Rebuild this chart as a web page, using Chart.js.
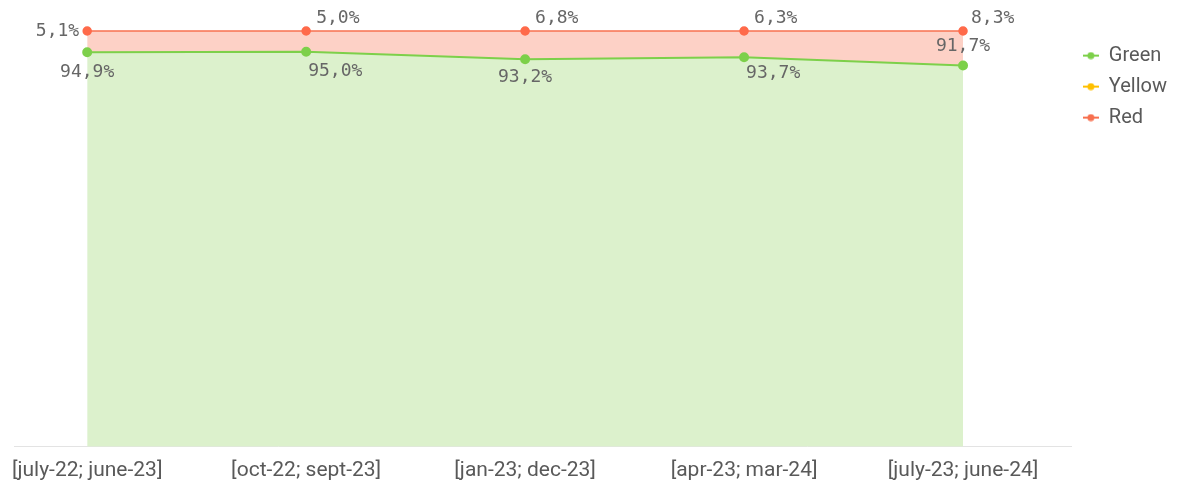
<!DOCTYPE html>
<html>
<head>
<meta charset="utf-8">
<script src="https://cdn.jsdelivr.net/npm/chart.js@4/dist/chart.umd.min.js"></script>
<style>
  html, body { margin: 0; padding: 0; background: #fff; }
  #wrap { width: 1196px; height: 490px; }
</style>
</head>
<body>
<div id="wrap"><canvas id="riskChart"></canvas></div>
<script>
// Data: share of green / yellow / red per rolling 12-month period
const periods = ['[july-22; june-23]', '[oct-22; sept-23]', '[jan-23; dec-23]', '[apr-23; mar-24]', '[july-23; june-24]'];
const green = [94.9, 95.0, 93.2, 93.7, 91.7];
const yellow = [0, 0, 0, 0, 0];
const red = [5.1, 5.0, 6.8, 6.3, 8.3];

const toPoints = arr => arr.map((v, i) => ({ x: i, y: v }));

// little "line with dot" markers for the legend
function legendIcon(color) {
    const c = document.createElement('canvas');
    c.width = 16; c.height = 8;
    const g = c.getContext('2d');
    g.strokeStyle = color; g.lineWidth = 2;
    g.beginPath(); g.moveTo(0, 4); g.lineTo(16, 4); g.stroke();
    g.fillStyle = color;
    g.beginPath(); g.arc(8, 4, 3.5, 0, Math.PI * 2); g.fill();
    return c;
}

// where each value label sits relative to its point: [dx, dy, align]
const labelSpots = {
    0: [[0, 20, 'center'], [2, 20, 'left'], [0, 18, 'center'], [2, 16, 'left'], [0, -19, 'center']],
    2: [[-8, 0, 'right'], [10, -13, 'left'], [10, -13, 'left'], [10, -13, 'left'], [8, -13, 'left']]
};

const valueLabels = {
    id: 'valueLabels',
    afterDatasetsDraw(chart) {
        const ctx = chart.ctx;
        ctx.save();
        ctx.font = '18px "DejaVu Sans Mono"';
        ctx.fillStyle = '#666666';
        ctx.textBaseline = 'middle';
        Object.keys(labelSpots).forEach(di => {
            const meta = chart.getDatasetMeta(+di);
            const vals = chart.data.datasets[di].data;
            meta.data.forEach((pt, i) => {
                const [dx, dy, align] = labelSpots[di][i];
                ctx.textAlign = align;
                ctx.fillText(vals[i].y.toFixed(1).replace('.', ',') + '%', pt.x + dx, pt.y + dy);
            });
        });
        ctx.restore();
    }
};

const ctx = document.getElementById('riskChart').getContext('2d');
new Chart(ctx, {
    type: 'line',
    data: {
        datasets: [
            {
                label: 'Green',
                data: toPoints(green),
                borderColor: '#7dd04a',
                backgroundColor: '#dcf1cc',
                pointBackgroundColor: '#7dd04a',
                pointBorderColor: '#7dd04a',
                borderWidth: 2,
                pointRadius: 4,
                fill: 'origin',
                tension: 0,
                clip: false
            },
            {
                label: 'Yellow',
                data: toPoints(yellow),
                borderColor: '#ffc000',
                backgroundColor: '#ffc000',
                borderWidth: 0,
                pointRadius: 0,
                showLine: false,
                fill: false
            },
            {
                label: 'Red',
                data: toPoints(red),
                borderColor: '#f7704f',
                backgroundColor: '#fdd1c6',
                pointBackgroundColor: '#ff6a4a',
                pointBorderColor: '#ff6a4a',
                borderWidth: 1.5,
                pointRadius: 4,
                fill: 0,
                tension: 0,
                clip: false
            }
        ]
    },
    options: {
        responsive: true,
        maintainAspectRatio: false,
        animation: false,
        layout: { padding: { top: 31, left: 13, right: 19, bottom: -4 } },
        plugins: {
            legend: {
                position: 'right',
                align: 'start',
                title: { display: true, text: ' ', font: { size: 3 }, padding: 0 },
                labels: {
                    usePointStyle: true,
                    pointStyleWidth: 16,
                    padding: 11,
                    color: '#595959',
                    font: { family: 'Roboto', size: 20 },
                    generateLabels(chart) {
                        const items = Chart.defaults.plugins.legend.labels.generateLabels(chart);
                        items.forEach(it => {
                            it.pointStyle = legendIcon(chart.data.datasets[it.datasetIndex].borderColor);
                        });
                        return items;
                    }
                }
            },
            tooltip: { enabled: false }
        },
        scales: {
            x: {
                type: 'linear',
                min: -0.333,
                max: 4.497,
                grid: { display: false, drawTicks: false },
                border: { color: '#e3e3e3', width: 1 },
                afterBuildTicks(axis) {
                    axis.ticks = periods.map((_, i) => ({ value: i }));
                },
                ticks: {
                    maxRotation: 0,
                    autoSkip: false,
                    padding: 11,
                    color: '#595959',
                    font: { family: 'Roboto', size: 21 },
                    callback: v => periods[v]
                }
            },
            y: {
                display: false,
                stacked: true,
                min: 0,
                max: 100
            }
        }
    },
    plugins: [valueLabels]
});
</script>
</body>
</html>
